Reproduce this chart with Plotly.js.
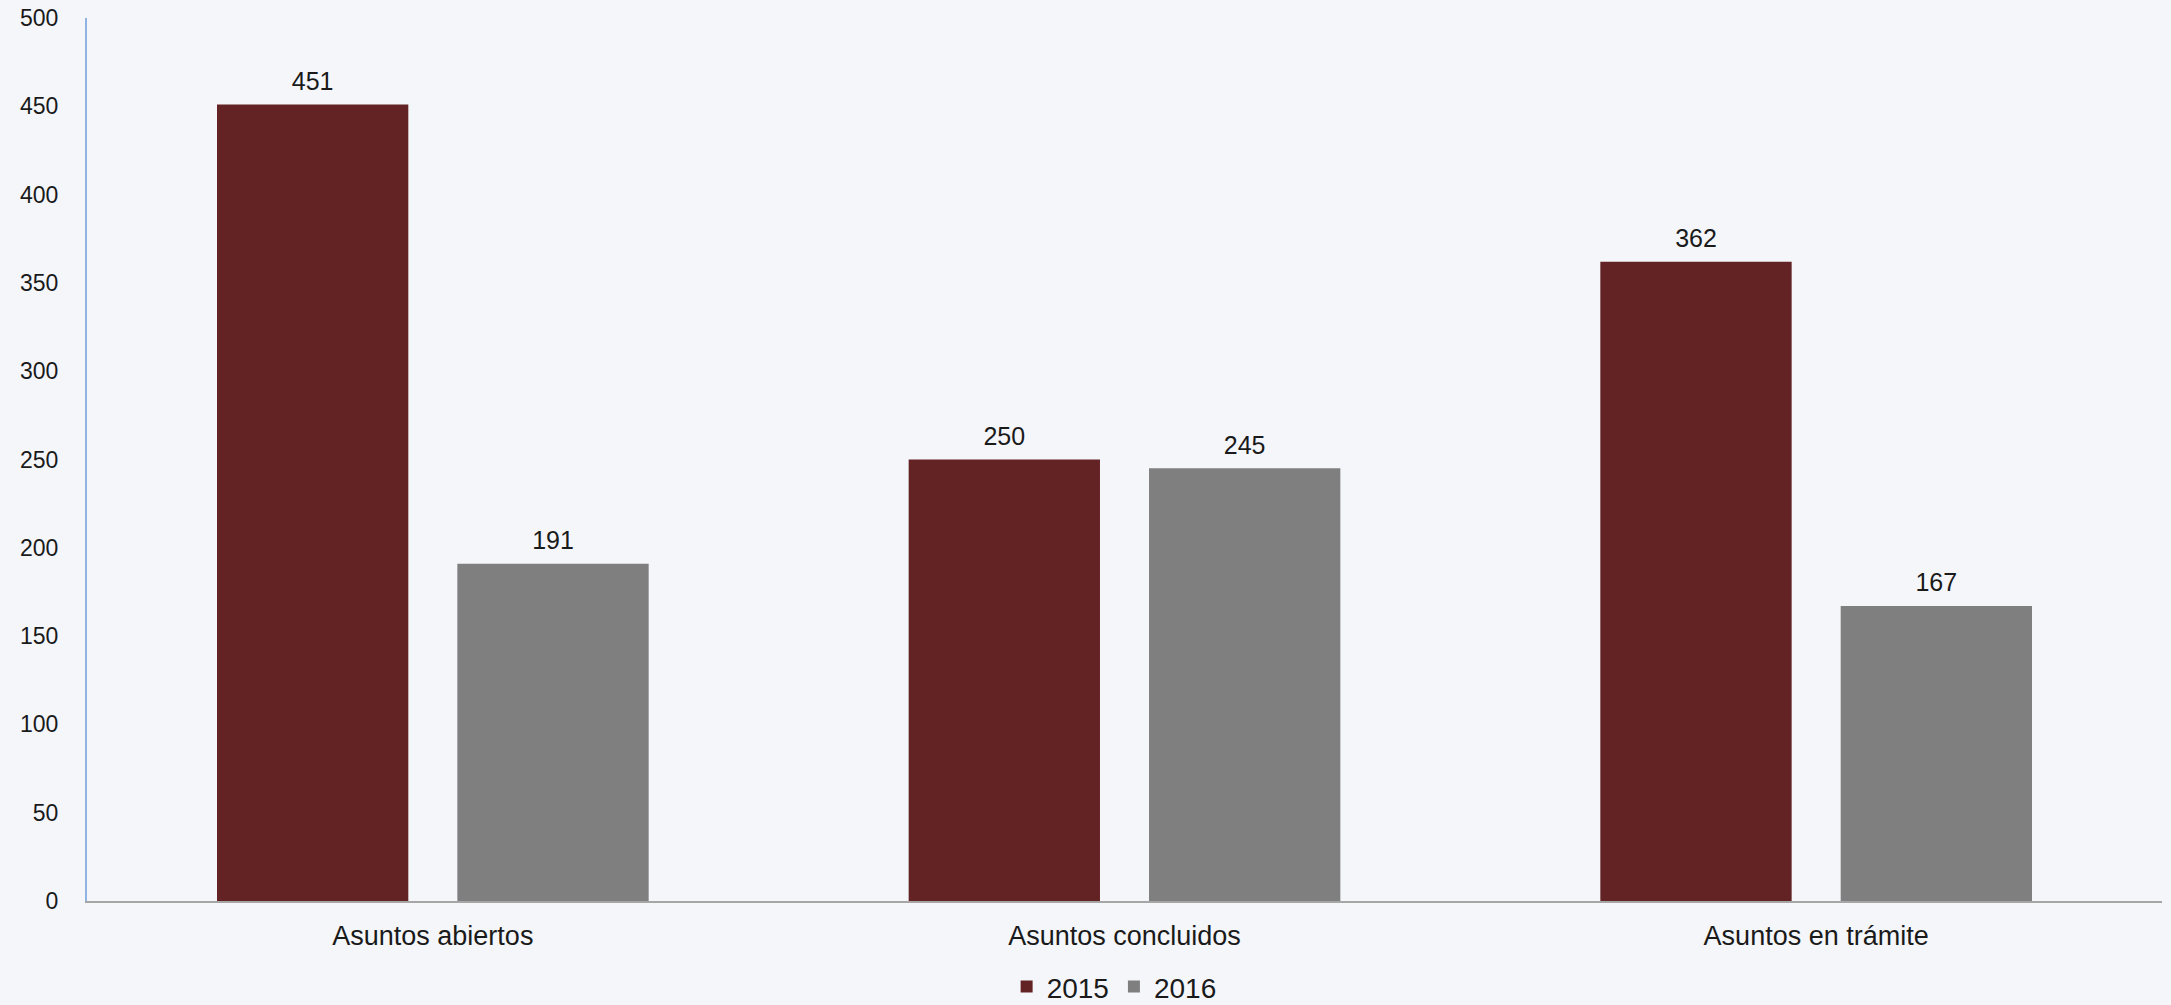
<!DOCTYPE html>
<html>
<head>
<meta charset="utf-8">
<script src="https://cdn.plot.ly/plotly-3.0.1.min.js"></script>
<style>
html,body{margin:0;padding:0;background:#f4f6fa;}
#chart{width:2171px;height:1005px;}
</style>
</head>
<body>
<div id="chart"></div>
<script>
const categories = ["Asuntos abiertos", "Asuntos concluidos", "Asuntos en trámite"];
const seriesNames = ["2015", "2016"];
const values2015 = [451, 250, 362];
const values2016 = [191, 245, 167];
const yTicks = [0, 50, 100, 150, 200, 250, 300, 350, 400, 450, 500];

const fam = "Liberation Sans, Arial, sans-serif";
const txt = "#1a1a1a";
const colors = ["#632324", "#7f7f7f"];
const series = [values2015, values2016];

const traces = [];
series.forEach((vals, i) => {
  traces.push({
    type: "bar", name: seriesNames[i], x: categories, y: vals,
    marker: {color: colors[i]}, offsetgroup: "g" + i, alignmentgroup: "a",
    hoverinfo: "skip", showlegend: true
  });
});
series.forEach((vals, i) => {
  traces.push({
    type: "scatter", mode: "markers+text", x: categories, y: vals,
    text: vals.map(String), textposition: "top center",
    textfont: {family: fam, size: 25, color: txt},
    marker: {size: 12, opacity: 0}, offsetgroup: "g" + i, alignmentgroup: "a",
    cliponaxis: false, showlegend: false, hoverinfo: "skip"
  });
});

const layout = {
  width: 2171, height: 1005,
  paper_bgcolor: "#f4f6fa", plot_bgcolor: "#f4f6fa",
  margin: {l: 87, r: 9, t: 18, b: 104, autoexpand: false},
  barmode: "group", bargap: 0.305, bargroupgap: 0.204,
  scattermode: "group", scattergap: 0.305,
  font: {family: fam, color: txt},
  showlegend: true,
  legend: {
    orientation: "h", x: 0.495, xanchor: "center",
    yref: "container", y: 0.018, yanchor: "middle",
    font: {family: fam, size: 28, color: txt},
    itemwidth: 30, traceorder: "normal"
  },
  xaxis: {
    type: "category", showgrid: false, zeroline: false,
    showline: true, linecolor: "#a6a6a6", linewidth: 2,
    ticks: "", ticklabelstandoff: 10,
    tickfont: {family: fam, size: 27, color: txt},
    automargin: false
  },
  yaxis: {
    range: [0, 500], tickvals: yTicks, ticktext: yTicks.map(String),
    showgrid: false, zeroline: false,
    showline: true, linecolor: "#8db4e2", linewidth: 2,
    ticks: "outside", ticklen: 22, tickcolor: "rgba(0,0,0,0)",
    tickfont: {family: fam, size: 23, color: txt},
    automargin: false
  }
};

Plotly.newPlot("chart", traces, layout, {displayModeBar: false, staticPlot: true});
</script>
</body>
</html>
